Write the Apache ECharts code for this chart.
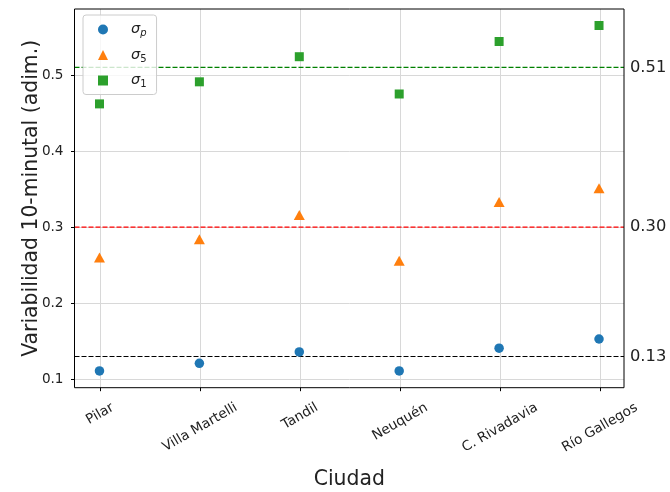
<!DOCTYPE html>
<html><head><meta charset="utf-8">
<script src="https://cdn.jsdelivr.net/npm/echarts@6/dist/echarts.min.js"></script>
<style>html,body{margin:0;padding:0;background:#fff}#c{width:670px;height:492px}</style>
</head><body><div id="c"></div>
<script>
const categories = ['Pilar', 'Villa Martelli', 'Tandil', 'Neuquén', 'C. Rivadavia', 'Río Gallegos'];
const sigmaP = [0.111, 0.121, 0.136, 0.111, 0.141, 0.153];
const sigma5 = [0.260, 0.284, 0.316, 0.256, 0.333, 0.351];
const sigma1 = [0.462, 0.491, 0.524, 0.475, 0.544, 0.565];
const thresholds = [0.13, 0.30, 0.51];
const seriesNames = ['σ_p', 'σ_5', 'σ_1'];

const FONT = 'DejaVu Sans';
const TXT = '#222222';
const markerColors = ['#1f77b4', '#ff7f0e', '#2ca02c'];
const refColors = ['#000000', '#ff0000', '#008000'];
const X_MIN = -0.25, X_MAX = categories.length - 1 + 0.25;
const Y_MIN = 0.089, Y_MAX = 0.5867;
const LBL = 13.6;
const ctx = document.createElement('canvas').getContext('2d');
function measure(t, size) { ctx.font = size + 'px "' + FONT + '"'; return ctx.measureText(t).width; }
// emulate matplotlib rotated tick labels: rotated bounding box centred under the tick, top-aligned
const rich = {};
categories.forEach((c, i) => {
  const w = measure(c, LBL), h = 16;
  const d = 0.25 * w + 0.433 * h;
  rich['c' + i] = { fontSize: LBL, fontFamily: FONT, color: TXT, padding: [1.732 * d, d, 0, 0] };
});

const seriesData = [sigmaP, sigma5, sigma1];
const symbols = ['circle', 'triangle', 'rect'];
const symbolSizes = [9.5, [11, 10], 9];

const chart = echarts.init(document.getElementById('c'), null, { renderer: 'canvas' });
const refSeries = thresholds.map((t, i) => ({
  name: 'ref' + i, type: 'line', xAxisIndex: 0, yAxisIndex: 0, silent: true, z: 2,
  data: [[X_MIN, t], [X_MAX, t]], symbol: 'none', showSymbol: false,
  lineStyle: { color: refColors[i], type: [5, 2], width: 1.2 }, itemStyle: { color: refColors[i] },
  emphasis: { disabled: true },
  endLabel: { show: true, distance: 6, formatter: p => (+p.value[1]).toFixed(2), fontSize: 16.3, fontFamily: FONT, color: TXT }
}));
const option = {
  animation: false,
  grid: [
    { left: 74.5, right: 46, top: 9, bottom: 104.3, show: true, borderColor: '#000', borderWidth: 1, backgroundColor: 'transparent', z: 3, outerBoundsMode: 'none', containLabel: false },
    { left: 100, right: 70, top: 9, bottom: 104.3, outerBoundsMode: 'none', containLabel: false }
  ],
  legend: {
    data: seriesNames.map((n, i) => ({ name: n, icon: symbols[i] })),
    orient: 'vertical', left: 83, top: 15,
    padding: [7, 10, 5, 15], itemGap: 9, itemWidth: 10, itemHeight: 10,
    borderColor: '#cccccc', borderWidth: 1, borderRadius: 3, backgroundColor: 'rgba(255,255,255,0.8)',
    formatter: name => {
      const sub = name.split('_')[1];
      return '{s|σ}{' + (/[a-z]/.test(sub) ? 'bi' : 'bu') + '|' + sub + '}';
    },
    textStyle: {
      padding: [0, 0, 0, 18],
      rich: {
        s: { fontFamily: FONT, fontStyle: 'italic', fontSize: 14.5, color: TXT, lineHeight: 18 },
        bi: { fontFamily: FONT, fontStyle: 'italic', fontSize: 10, color: TXT, lineHeight: 10, verticalAlign: 'bottom' },
        bu: { fontFamily: FONT, fontSize: 10, color: TXT, lineHeight: 10, verticalAlign: 'bottom' }
      }
    }
  },
  xAxis: [
    {
      type: 'value', gridIndex: 0, min: X_MIN, max: X_MAX,
      axisLine: { show: false, onZero: false }, axisTick: { show: false }, axisLabel: { show: false }, splitLine: { show: false },
      name: 'Ciudad', nameLocation: 'middle', nameGap: 82, nameMoveOverlap: false,
      nameTextStyle: { fontFamily: FONT, fontSize: 20.4, color: TXT }
    },
    {
      type: 'category', gridIndex: 1, data: categories, boundaryGap: false,
      axisLine: { show: false, onZero: false },
      axisTick: { show: true, length: 3.5, interval: 0, lineStyle: { color: '#000' } },
      axisLabel: { interval: 0, rotate: 30, align: 'center', verticalAlign: 'middle', margin: 12, fontSize: LBL, fontFamily: FONT, color: TXT,
        formatter: (v, i) => '{c' + i + '|' + v + '}', rich: rich },
      splitLine: { show: true, interval: 0, lineStyle: { color: '#d8d8d8', width: 1 } }
    }
  ],
  yAxis: [
    {
      type: 'value', gridIndex: 0, min: Y_MIN, max: Y_MAX, splitNumber: 5,
      axisLine: { show: false, onZero: false },
      axisTick: { show: true, length: 3.5, lineStyle: { color: '#000' } },
      axisLabel: { showMinLabel: false, showMaxLabel: false, fontSize: 13.6, fontFamily: FONT, margin: 11, color: TXT, formatter: v => (+v).toFixed(1) },
      splitLine: { show: true, showMinLine: false, showMaxLine: false, lineStyle: { color: '#d8d8d8', width: 1 } },
      name: 'Variabilidad 10-minutal (adim.)', nameLocation: 'middle', nameGap: 33, nameMoveOverlap: false,
      nameTextStyle: { fontFamily: FONT, fontSize: 20.4, color: TXT }
    },
    { type: 'value', gridIndex: 1, min: Y_MIN, max: Y_MAX, show: false }
  ],
  series: refSeries.concat(seriesNames.map((n, i) => ({
    name: n, type: 'scatter', xAxisIndex: 0, yAxisIndex: 0,
    data: seriesData[i].map((v, k) => [k, v]),
    symbol: symbols[i], symbolSize: symbolSizes[i],
    itemStyle: { color: markerColors[i], opacity: 1 }, z: 5
  })))
};
chart.setOption(option);
</script>
</body></html>
